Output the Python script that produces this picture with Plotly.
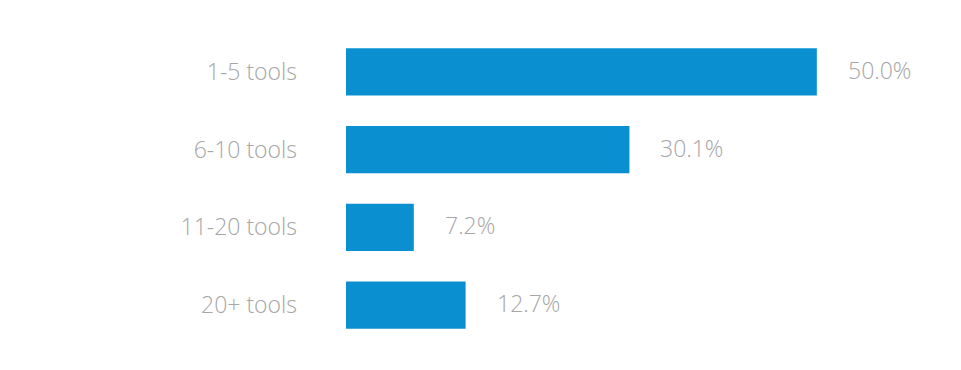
import plotly.graph_objects as go

categories = ["1-5 tools", "6-10 tools", "11-20 tools", "20+ tools"]
values = [50.0, 30.1, 7.2, 12.7]
value_labels = ["50.0%", "30.1%", "7.2%", "12.7%"]

bar_color = "#0a8fd0"
text_color = "#a6a6a6"
font_family = "'Open Sans', Lato, sans-serif"

fig = go.Figure(
    go.Bar(
        x=values,
        y=categories,
        orientation="h",
        marker=dict(color=bar_color, line=dict(width=0)),
        width=0.605,
        hoverinfo="skip",
    )
)

for cat, v, lab in zip(categories, values, value_labels):
    fig.add_annotation(
        x=v, y=cat, text=lab, showarrow=False, xanchor="left", yanchor="middle",
        xshift=29, yshift=2,
        font=dict(family=font_family, size=23, color=text_color, weight=300),
    )

fig.update_layout(
    width=961, height=370,
    margin=dict(l=338, r=58, t=25, b=34),
    paper_bgcolor="white", plot_bgcolor="white",
    showlegend=False,
    xaxis=dict(range=[0, 60], visible=False, fixedrange=True),
    yaxis=dict(
        categoryorder="array", categoryarray=categories, autorange="reversed",
        showgrid=False, zeroline=False, showline=False, ticks="",
        ticklabelstandoff=48,
        tickfont=dict(family=font_family, size=23, color=text_color, weight=300),
    ),
)

fig.write_html("out.html")
